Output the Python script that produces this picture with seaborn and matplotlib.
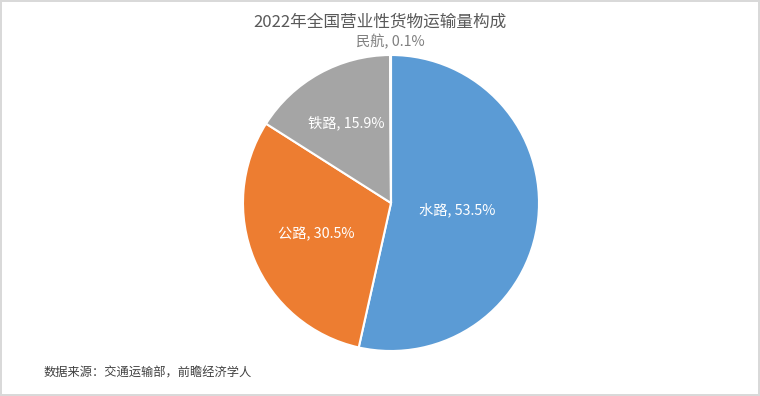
import numpy as np
import matplotlib
matplotlib.use("Agg")
import matplotlib.pyplot as plt
import seaborn as sns

# data
modes = ['水路', '公路', '铁路', '民航']
shares = [53.5, 30.5, 15.9, 0.1]
colors = ['#5B9BD5', '#ED7D31', '#A5A5A5', '#FFC000']
label_dist = [0.45, 0.55, 0.62, 1.09]
label_colors = ['white', 'white', 'white', '#7F7F7F']

sns.set_theme(style='white')
plt.rcParams['font.family'] = ['Noto Sans CJK SC', 'DejaVu Sans']

fig = plt.figure(figsize=(7.6, 3.96), dpi=100, facecolor='white',
                 edgecolor='#D9D9D9', linewidth=1.5)

# square axes holding the pie
ax = fig.add_axes([243 / 760, 45 / 396, 296 / 760, 296 / 396])
wedges, _ = ax.pie(shares, colors=colors, startangle=90, counterclock=False,
                   wedgeprops=dict(edgecolor='white', linewidth=1.5))
ax.set_xlim(-1, 1)
ax.set_ylim(-1, 1)
ax.set_aspect('equal')
ax.axis('off')

# labels "name, pct%"
for w, name, val, d, c in zip(wedges, modes, shares, label_dist, label_colors):
    ang = np.deg2rad((w.theta1 + w.theta2) / 2)
    ax.text(d * np.cos(ang), d * np.sin(ang), f'{name}, {val:.1f}%',
            ha='center', va='center', fontsize=10.3, color=c)

fig.text(0.5, 1 - 22 / 396, '2022年全国营业性货物运输量构成',
         ha='center', va='center', fontsize=12, color='#595959')
fig.text(44 / 760, 1 - 373 / 396, '数据来源：交通运输部，前瞻经济学人',
         ha='left', va='center', fontsize=8.8, color='#404040')

fig.savefig('out.png', dpi=100, facecolor=fig.get_facecolor(),
            edgecolor=fig.get_edgecolor())
